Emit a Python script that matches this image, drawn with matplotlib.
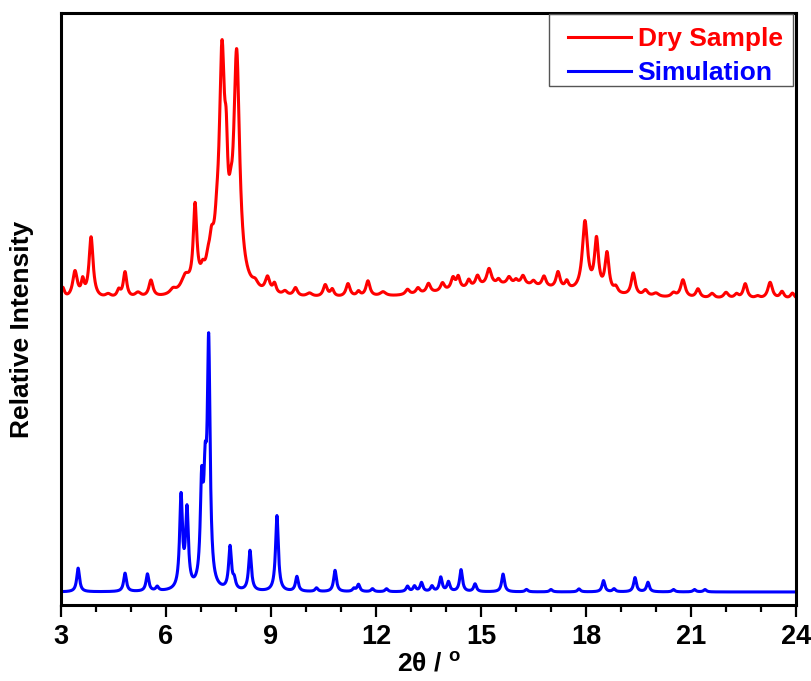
import numpy as np
import matplotlib
matplotlib.use("Agg")
import matplotlib.pyplot as plt
from matplotlib.patches import Rectangle
from matplotlib.ticker import MultipleLocator

# 2-theta grid (degrees)
two_theta = np.linspace(3, 24, 4201)

# Dry sample: peak table (position, height, half width)
dry_pos = [3.05, 3.4, 3.62, 3.86, 4.35, 4.65, 4.83, 5.2, 5.57, 6.2, 6.55, 6.83,
           7.05, 7.2, 7.3, 7.45, 7.6, 7.72, 7.85, 8.02, 8.55, 8.9, 9.1, 9.4, 9.7,
           10.1, 10.55, 10.75, 11.2, 11.5, 11.77, 12.2, 12.9, 13.2, 13.5, 13.9,
           14.2, 14.35, 14.65, 14.9, 15.23, 15.5, 15.8, 16.0, 16.2, 16.5, 16.8,
           17.2, 17.45, 17.97, 18.3, 18.6, 18.85, 19.35, 19.7, 20.0, 20.5, 20.77,
           21.2, 21.6, 22.0, 22.3, 22.55, 22.9, 23.26, 23.6, 23.9, 15.8, 7.5]
dry_height = [1.8, 4.5, 2.5, 10.3, 0.6, 1.2, 4.3, 0.8, 2.8, 0.8, 2.5, 13.5,
              1.5, 1.5, 3.8, 2.5, 35.0, 11.0, 4.0, 38.0, 1.0, 2.6, 1.6, 0.7, 1.4,
              0.6, 2.0, 1.2, 2.2, 0.8, 2.6, 0.7, 0.9, 1.0, 1.6, 1.4,
              2.0, 2.0, 1.3, 1.8, 2.8, 0.8, 1.2, 0.7, 1.5, 0.8, 1.8,
              2.8, 1.3, 11.8, 8.6, 6.6, 1.0, 3.8, 1.0, 0.6, 0.7, 3.0,
              1.5, 0.8, 1.0, 0.7, 2.5, 0.4, 2.8, 1.2, 1.0, 2.6, 4.5]
dry_width = [0.06, 0.08, 0.05, 0.07, 0.1, 0.06, 0.06, 0.1, 0.07, 0.1, 0.14, 0.06,
             0.06, 0.06, 0.07, 0.06, 0.09, 0.05, 0.06, 0.1, 0.1, 0.08, 0.06, 0.08,
             0.07, 0.1, 0.07, 0.06, 0.07, 0.06, 0.07, 0.1, 0.07, 0.07, 0.07, 0.07,
             0.07, 0.06, 0.06, 0.07, 0.08, 0.06, 0.07, 0.06, 0.07, 0.07, 0.07,
             0.07, 0.06, 0.09, 0.07, 0.07, 0.07, 0.07, 0.08, 0.1, 0.08, 0.08,
             0.07, 0.08, 0.08, 0.07, 0.07, 0.08, 0.08, 0.07, 0.07, 2.0, 0.45]
dry_offset = 51.4

# Simulated pattern: reflection list
sim_pos = [3.49, 4.83, 5.47, 5.75, 6.43, 6.60, 7.02, 7.12, 7.22, 7.83, 7.95,
           8.40, 9.17, 9.74, 10.30, 10.83, 11.37, 11.50, 11.90, 12.30, 12.90,
           13.10, 13.30, 13.60, 13.85, 14.07, 14.43, 14.83, 15.63, 16.30, 17.00,
           17.80, 18.50, 18.80, 19.40, 19.77, 20.50, 21.10, 21.40]
sim_height = [4.0, 3.1, 2.9, 0.7, 15.5, 13.0, 16.0, 14.5, 40.0, 7.2, 1.5,
              6.8, 12.8, 2.5, 0.6, 3.6, 0.5, 1.2, 0.5, 0.5, 0.9,
              0.9, 1.5, 0.9, 2.4, 1.6, 3.7, 1.3, 3.0, 0.4, 0.4,
              0.5, 1.9, 0.5, 2.4, 1.6, 0.4, 0.4, 0.4]
sim_width = 0.048
sim_offset = 2.2


def pattern(x, positions, heights, widths):
    widths = np.broadcast_to(widths, np.shape(positions))
    y = np.zeros_like(x)
    for p, h, w in zip(positions, heights, widths):
        y += h / (1.0 + ((x - p) / w) ** 2)
    return y


dry = dry_offset + pattern(two_theta, dry_pos, dry_height, dry_width)
sim = sim_offset + pattern(two_theta, sim_pos, sim_height, sim_width)

plt.rcParams['font.family'] = ['Liberation Sans', 'DejaVu Sans']
plt.rcParams['font.weight'] = 'bold'
plt.rcParams['mathtext.fontset'] = 'custom'
plt.rcParams['mathtext.rm'] = 'Liberation Sans:bold'
plt.rcParams['mathtext.it'] = 'Liberation Sans:bold'

fig = plt.figure(figsize=(8.12, 6.81), dpi=100)
ax = fig.add_axes([0.0751, 0.1116, 0.9052, 0.8693])

ax.plot(two_theta, dry, color='#ff0000', lw=2.2, label='Dry Sample')
ax.plot(two_theta, sim, color='#0000ff', lw=2.2, label='Simulation')

ax.set_xlim(3, 24)
ax.set_ylim(0, 100)
ax.xaxis.set_major_locator(MultipleLocator(3))
ax.xaxis.set_minor_locator(MultipleLocator(1))
ax.tick_params(axis='x', which='major', direction='out', length=8.5, width=1.6,
               labelsize=19.5, pad=5)
ax.tick_params(axis='x', which='minor', direction='out', length=5, width=1.6)
ax.tick_params(axis='y', left=False, labelleft=False)
for sp in ax.spines.values():
    sp.set_linewidth(2.2)

ax.set_xlabel(r'2$\theta$ / $^{\mathrm{o}}$', fontsize=19, fontweight='bold')
ax.set_ylabel('Relative Intensity', fontsize=19, fontweight='bold')
ax.xaxis.set_label_coords(0.5, -0.08)
ax.yaxis.set_label_coords(-0.037, 0.466)

# legend text/handles, with a separate box drawn around them
ax.legend(loc='upper right', bbox_to_anchor=(0.996, 0.9946), fontsize=19,
          labelcolor='linecolor', frameon=False, handlelength=2.4,
          handletextpad=0.25, labelspacing=0.4, borderpad=0.4, borderaxespad=0)
ax.add_patch(Rectangle((0.664, 0.877), 0.332, 0.121, transform=ax.transAxes,
                       fill=False, edgecolor='#555555', lw=1.0, zorder=5))

fig.savefig('out.png', dpi=100)
